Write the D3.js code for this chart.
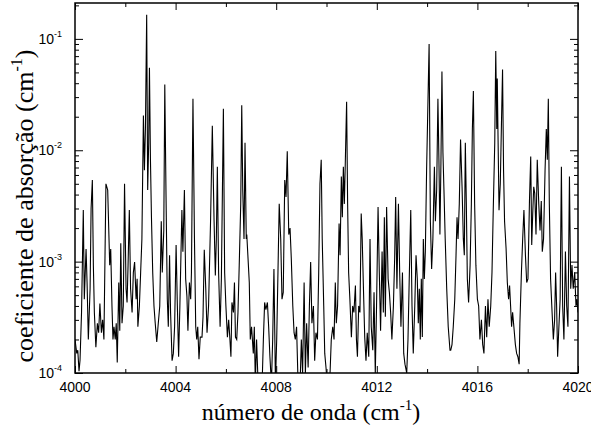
<!DOCTYPE html>
<meta charset="utf-8">
<script src="https://d3js.org/d3.v7.min.js"></script>
<style>
body { margin: 0; background: #fff; }
.tick line { stroke: #000; }
.domain { stroke: none; }
</style>
<div id="vis"></div>
<script>
// spectrum: wavenumber (cm-1) and absorption coefficient (cm-1)
var wavenumber = [
 4000.00,4000.07,4000.11,4000.16,4000.20,4000.26,4000.33,4000.37,4000.44,4000.48,4000.53,4000.60,4000.64,4000.69,4000.73,4000.77,4000.83,4000.89,4000.94,4000.99,
 4001.05,4001.10,4001.15,4001.23,4001.30,4001.38,4001.42,4001.47,4001.51,4001.55,4001.60,4001.64,4001.68,4001.74,4001.78,4001.82,4001.87,4001.92,4001.97,
 4002.03,4002.07,4002.11,4002.16,4002.21,4002.27,4002.32,4002.37,4002.43,4002.47,4002.50,4002.56,4002.61,4002.66,4002.72,4002.76,4002.80,4002.85,4002.89,4002.93,4002.96,
 4003.00,4003.04,4003.09,4003.14,4003.19,4003.25,4003.30,4003.37,4003.43,4003.47,4003.53,4003.57,4003.62,4003.67,4003.71,4003.76,4003.80,4003.86,4003.91,4003.96,
 4004.02,4004.07,4004.12,4004.17,4004.25,4004.29,4004.35,4004.40,4004.45,4004.49,4004.55,4004.60,4004.63,4004.69,4004.75,4004.80,4004.84,4004.88,4004.93,4004.98,
 4005.05,4005.09,4005.14,4005.20,4005.25,4005.31,4005.39,4005.46,4005.53,4005.58,4005.62,4005.66,4005.71,4005.77,4005.82,4005.90,4005.95,
 4006.00,4006.06,4006.11,4006.16,4006.20,4006.24,4006.30,4006.34,4006.38,4006.43,4006.48,4006.53,4006.59,4006.63,4006.67,4006.72,4006.76,4006.81,4006.83,4006.88,4006.93,4006.97,
 4007.02,4007.09,4007.13,4007.17,4007.22,4007.28,4007.33,4007.38,4007.44,4007.49,4007.54,4007.59,4007.65,4007.70,4007.75,4007.81,4007.86,4007.91,4007.97,
 4008.02,4008.07,4008.12,4008.18,4008.23,4008.28,4008.34,4008.39,4008.44,4008.50,4008.55,4008.60,4008.66,4008.71,4008.76,4008.81,4008.87,4008.95,
 4009.00,4009.05,4009.11,4009.16,4009.21,4009.27,4009.32,4009.37,4009.42,4009.48,4009.53,4009.58,4009.64,4009.69,4009.74,4009.79,4009.83,4009.89,4009.93,4009.98,
 4010.03,4010.09,4010.14,4010.19,4010.25,4010.30,4010.35,4010.39,4010.44,4010.50,4010.54,4010.59,4010.63,4010.67,4010.71,4010.75,4010.80,4010.84,4010.88,4010.93,4010.99,
 4011.04,4011.09,4011.15,4011.19,4011.23,4011.28,4011.33,4011.38,4011.42,4011.48,4011.52,4011.57,4011.62,4011.68,4011.73,4011.78,4011.84,4011.89,4011.94,4011.99,
 4012.05,4012.10,4012.15,4012.21,4012.26,4012.30,4012.34,4012.39,4012.45,4012.50,4012.55,4012.60,4012.66,4012.71,4012.75,4012.80,4012.86,4012.91,4012.96,
 4013.02,4013.07,4013.12,4013.19,4013.24,4013.29,4013.35,4013.40,4013.45,4013.51,4013.56,4013.61,4013.65,4013.69,4013.73,4013.77,4013.81,4013.85,4013.89,4013.93,4013.98,
 4014.02,4014.08,4014.13,4014.18,4014.23,4014.29,4014.33,4014.38,4014.43,4014.47,4014.51,4014.55,4014.59,4014.63,4014.67,4014.72,4014.78,4014.84,4014.91,4014.94,4014.99,
 4015.04,4015.10,4015.15,4015.19,4015.23,4015.28,4015.33,4015.39,4015.44,4015.48,4015.52,4015.56,4015.60,4015.65,4015.71,4015.76,4015.80,4015.84,4015.89,4015.94,
 4016.00,4016.05,4016.10,4016.16,4016.21,4016.26,4016.32,4016.37,4016.42,4016.47,4016.53,4016.58,4016.63,4016.69,4016.73,4016.77,4016.79,4016.82,4016.86,4016.91,4016.96,
 4017.00,4017.04,4017.08,4017.14,4017.19,4017.24,4017.28,4017.32,4017.36,4017.40,4017.45,4017.51,4017.56,4017.61,4017.66,4017.69,4017.75,4017.80,4017.85,4017.91,4017.96,
 4018.01,4018.07,4018.12,4018.16,4018.20,4018.24,4018.28,4018.33,4018.38,4018.44,4018.49,4018.54,4018.58,4018.63,4018.69,4018.74,4018.78,4018.82,4018.86,4018.91,4018.97,
 4019.02,4019.07,4019.11,4019.15,4019.19,4019.23,4019.29,4019.34,4019.39,4019.44,4019.50,4019.55,4019.60,4019.66,4019.71,4019.76,4019.81,4019.87,4019.92,4019.96,4020.00
];
var absorption = [
 2.0e-4,1.5e-4,1.6e-4,1.04e-4,1.3e-4,3.5e-4,2.9e-3,4.6e-4,1.3e-3,6.5e-4,2.0e-4,5.7e-4,3.0e-3,5.4e-3,9.3e-4,3.5e-4,1.7e-4,2.8e-4,2.3e-4,4.2e-4,
 2.3e-4,3.0e-4,2.0e-4,5.0e-3,4.4e-3,9.3e-4,1.3e-3,4.0e-4,2.0e-4,2.6e-4,2.0e-4,2.8e-4,1.24e-4,6.5e-4,2.4e-4,1.46e-3,2.8e-4,4.0e-4,5.0e-3,
 5.7e-4,4.3e-4,9.3e-4,2.9e-3,5.7e-4,3.5e-4,8.0e-4,9.9e-4,4.6e-4,7.0e-4,2.6e-4,4.0e-4,8.0e-4,1.6e-3,2.05e-2,6.6e-3,1.55e-2,0.165,4.4e-3,1.17e-2,5.5e-2,
 8.2e-3,2.5e-3,8.0e-4,4.0e-4,2.8e-4,1.9e-4,2.6e-4,4.0e-4,2.3e-3,8.0e-4,1.9e-3,3.9e-2,3.8e-3,4.6e-4,2.6e-4,1.14e-3,3.5e-4,1.29e-4,1.5e-4,2.6e-4,
 1.41e-3,4.0e-4,1.4e-4,4.0e-4,2.9e-3,1.23e-3,4.4e-3,7.0e-4,4.9e-4,2.4e-4,6.5e-4,4.6e-4,8.0e-4,2.9e-2,1.6e-3,2.6e-4,2.0e-4,2.6e-4,1.33e-4,2.1e-4,
 2.1e-4,3.2e-4,1.28e-3,5.7e-4,2.3e-4,4.0e-4,2.3e-3,1.66e-2,2.3e-3,7.5e-4,1.6e-3,7.1e-3,8.0e-4,2.6e-4,7.0e-4,2.36e-2,8.0e-4,
 4.0e-4,2.1e-4,3.0e-4,2.0e-4,1.4e-4,4.3e-4,3.5e-4,6.5e-4,2.1e-4,2.0e-4,3.5e-4,9.3e-4,3.3e-3,2.53e-2,4.4e-3,1.6e-3,1.17e-2,1.6e-3,1.75e-3,1.07e-3,6.5e-4,2.0e-4,
 2.6e-4,1.5e-4,2.6e-4,8e-5,2.0e-4,8e-5,9.8e-5,8e-5,8e-5,2.0e-4,4.3e-4,3.7e-4,4.3e-4,2.6e-4,1.4e-4,8e-5,2.0e-4,8.6e-4,8e-5,
 2.0e-4,8.0e-4,3.3e-3,1.6e-3,4.6e-4,5.3e-4,5.4e-3,3.8e-3,9.8e-3,1.75e-3,2.0e-3,1.07e-3,4.0e-4,2.3e-4,2.0e-4,2.6e-4,8e-5,8e-5,
 2.0e-4,9.8e-5,6.5e-4,9.8e-5,2.8e-4,1.12e-4,4.0e-4,9.9e-4,2.8e-4,4.0e-4,1.29e-4,2.3e-4,2.0e-4,8.0e-4,5.0e-3,8.2e-3,1.6e-3,4.0e-4,1.5e-4,1.12e-4,
 8e-5,8e-5,9.8e-5,2.0e-4,2.6e-4,2.0e-4,6.5e-4,2.8e-4,4.0e-4,2.2e-3,1.14e-3,5.8e-3,2.5e-3,7.1e-3,3.3e-3,8.2e-3,2.72e-2,3.3e-3,8.0e-4,4.6e-4,2.1e-4,
 4.0e-4,3.5e-4,6.1e-4,2.0e-4,1.4e-4,4.0e-4,3.5e-4,2.7e-3,1.6e-3,4.6e-4,2.1e-4,1.29e-4,2.3e-4,1.4e-4,1.6e-3,2.6e-4,1.6e-4,5.3e-4,9.8e-5,4.0e-4,
 3.1e-3,8.0e-4,2.4e-4,1.23e-3,3.5e-4,2.5e-3,3.2e-4,3.1e-3,7.0e-4,5.3e-4,3.5e-4,2.0e-4,4.0e-4,1.07e-3,3.8e-3,5.7e-4,3.3e-3,8.0e-4,2.6e-4,
 8.0e-4,1.5e-4,1.2e-4,1.0e-4,2.0e-4,7.0e-4,2.9e-3,4.0e-4,1.5e-4,4.0e-4,1.14e-3,7.0e-4,2.8e-4,5.7e-4,2.0e-4,7.0e-4,2.1e-4,1.6e-3,7.0e-4,1.23e-3,6.6e-3,
 1.9e-2,9.0e-2,2.3e-3,8.6e-4,1.6e-3,7.1e-3,2.3e-3,4.4e-3,2.9e-2,8.2e-3,1.75e-3,7.7e-3,5.1e-2,9.5e-3,4.4e-3,1.6e-3,5.7e-4,2.6e-4,1.6e-4,1.6e-4,1.8e-4,
 2.6e-4,4.6e-4,1.14e-3,2.5e-3,1.6e-3,3.3e-3,1.25e-2,4.7e-3,1.6e-3,1.14e-3,1.17e-2,3.3e-3,7.0e-4,4.3e-4,9.3e-4,3.3e-3,1.55e-2,3.4e-2,3.3e-3,9.3e-4,
 4.6e-4,4.0e-4,2.0e-4,3.0e-4,1.8e-4,1.5e-4,4.0e-4,2.1e-4,4.6e-4,2.6e-4,4.0e-4,8.0e-4,2.9e-3,1.17e-2,7.8e-2,1.55e-2,4.4e-2,1.34e-2,2.9e-3,5.0e-3,1.9e-2,
 5.3e-2,6.6e-3,2.3e-3,1.32e-3,6.5e-4,4.6e-4,6.1e-4,4.0e-4,2.6e-4,3.5e-4,2.6e-4,1.8e-4,1.5e-4,1.4e-4,1.2e-4,2.8e-4,8.0e-4,1.6e-3,2.9e-3,1.14e-3,6.5e-4,
 7.0e-4,3.5e-3,8.8e-3,1.41e-3,2.7e-3,4.7e-3,4.1e-3,1.75e-3,8.2e-3,3.3e-3,1.9e-3,3.5e-3,1.23e-3,1.6e-3,6.6e-3,1.55e-2,8.2e-3,2.9e-2,3.3e-3,7.0e-4,3.5e-4,
 2.0e-4,3.0e-4,8.0e-4,4.0e-4,1.4e-4,2.3e-4,4.6e-4,7.1e-3,4.0e-4,2.0e-4,1.23e-3,4.0e-4,2.6e-4,5.8e-3,5.7e-4,9.3e-4,5.7e-4,8.0e-4,4.0e-4,4.6e-4,3.5e-4
];

var xMajor = [4000, 4004, 4008, 4012, 4016, 4020];
var xMinor = [4002, 4006, 4010, 4014, 4018];
var yExponents = [-4, -3, -2, -1];

var width = 591,
    height = 429,
    plotLeft = 75, plotRight = 578, plotTop = 3, plotBottom = 373;

var svg = d3.select("#vis")
  .append("svg")
  .attr("width", width)
  .attr("height", height);

var x = d3.scaleLinear().domain([4000, 4020]).range([plotLeft, plotRight]);
var y = d3.scaleLog().domain([1e-4, 0.21]).range([plotBottom, plotTop]);

// minor log ticks 2..9 in each decade
var yMinor = [];
yExponents.forEach(function (e) {
  for (var k = 2; k <= 9; k++) {
    var v = k * Math.pow(10, e);
    if (v <= 0.21) yMinor.push(v);
  }
});
var yMajor = yExponents.map(function (e) { return Math.pow(10, e); });

svg.append("clipPath").attr("id", "plot")
  .append("rect")
  .attr("x", plotLeft).attr("y", plotTop)
  .attr("width", plotRight - plotLeft).attr("height", plotBottom - plotTop);

var data = wavenumber.map(function (w, i) { return [w, absorption[i]]; });

var line = d3.line()
  .x(function (d) { return x(d[0]); })
  .y(function (d) { return y(d[1]); });

svg.append("path")
  .datum(data)
  .attr("clip-path", "url(#plot)")
  .attr("fill", "none")
  .attr("stroke", "#000")
  .attr("stroke-width", 1.1)
  .attr("d", line);

// ticks on all four sides, pointing inward
function addAxis(axis, tx, ty) {
  svg.append("g")
    .attr("transform", "translate(" + tx + "," + ty + ")")
    .call(axis)
    .selectAll(".tick line").attr("stroke-width", 1);
}
addAxis(d3.axisBottom(x).tickValues(xMajor).tickSize(-7).tickFormat(""), 0, plotBottom);
addAxis(d3.axisBottom(x).tickValues(xMinor).tickSize(-4).tickFormat(""), 0, plotBottom);
addAxis(d3.axisTop(x).tickValues(xMajor).tickSize(-7).tickFormat(""), 0, plotTop);
addAxis(d3.axisTop(x).tickValues(xMinor).tickSize(-4).tickFormat(""), 0, plotTop);
addAxis(d3.axisLeft(y).tickValues(yMajor).tickSize(-8).tickFormat(""), plotLeft, 0);
addAxis(d3.axisLeft(y).tickValues(yMinor).tickSize(-4).tickFormat(""), plotLeft, 0);
addAxis(d3.axisRight(y).tickValues(yMajor).tickSize(-8).tickFormat(""), plotRight, 0);
addAxis(d3.axisRight(y).tickValues(yMinor).tickSize(-4).tickFormat(""), plotRight, 0);

// frame
svg.append("rect")
  .attr("x", plotLeft).attr("y", plotTop)
  .attr("width", plotRight - plotLeft).attr("height", plotBottom - plotTop)
  .attr("fill", "none")
  .attr("stroke", "#000")
  .attr("stroke-width", 1.5);

// x tick labels
svg.selectAll(".xlab")
  .data(xMajor)
  .enter().append("text")
  .attr("class", "xlab")
  .attr("x", function (d) { return x(d); })
  .attr("y", plotBottom + 19)
  .attr("text-anchor", "middle")
  .attr("font-family", "Liberation Sans, Arial, sans-serif")
  .attr("font-size", 14)
  .text(function (d) { return d; });

// y tick labels 10^n
var ylab = svg.selectAll(".ylab")
  .data(yExponents)
  .enter().append("text")
  .attr("class", "ylab")
  .attr("x", plotLeft - 13)
  .attr("y", function (d) { return y(Math.pow(10, d)) + 5; })
  .attr("text-anchor", "end")
  .attr("font-family", "Liberation Sans, Arial, sans-serif")
  .attr("font-size", 14);
ylab.append("tspan").text("10");
ylab.append("tspan")
  .attr("dy", -7)
  .attr("font-size", 9)
  .text(function (d) { return d; });

// axis titles
var xt = svg.append("text")
  .attr("x", 311)
  .attr("y", 420)
  .attr("text-anchor", "middle")
  .attr("font-family", "Liberation Serif, Times New Roman, serif")
  .attr("font-size", 24);
xt.append("tspan").text("número de onda (cm");
xt.append("tspan").attr("dy", -10).attr("font-size", 15).text("-1");
xt.append("tspan").attr("dy", 10).text(")");

var yt = svg.append("text")
  .attr("transform", "translate(33,206) rotate(-90)")
  .attr("text-anchor", "middle")
  .attr("font-family", "Liberation Serif, Times New Roman, serif")
  .attr("font-size", 26);
yt.append("tspan").text("coeficiente de absorção (cm");
yt.append("tspan").attr("dy", -11).attr("font-size", 16).text("-1");
yt.append("tspan").attr("dy", 11).text(")");
</script>
